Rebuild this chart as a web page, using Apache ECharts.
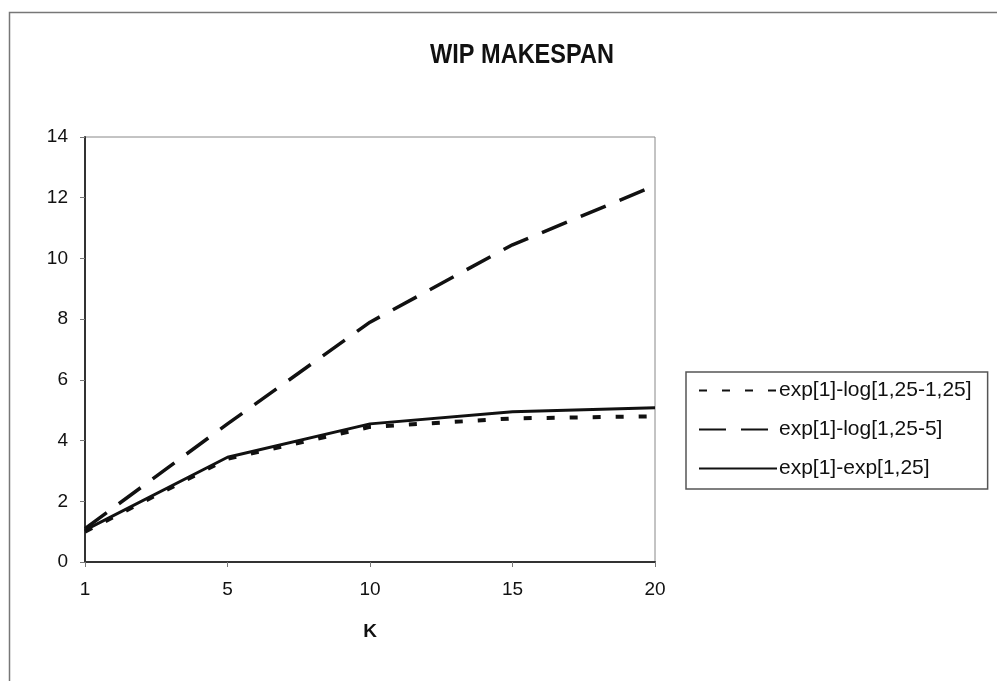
<!DOCTYPE html>
<html>
<head>
<meta charset="utf-8">
<script src="https://cdn.jsdelivr.net/npm/echarts@6/dist/echarts.min.js"></script>
<style>
  html, body { margin: 0; padding: 0; background: #fff; }
  #chart { width: 997px; height: 681px; }
</style>
</head>
<body>
<div id="chart"></div>
<script>
// data
var kValues = ['1', '5', '10', '15', '20'];
var logSame = [1.0, 3.4, 4.45, 4.73, 4.8];      // exp[1]-log[1,25-1,25]
var logFive = [1.1, 4.55, 7.9, 10.45, 12.4];    // exp[1]-log[1,25-5]
var expExp = [1.05, 3.45, 4.55, 4.95, 5.08];    // exp[1]-exp[1,25]

var font = "'Liberation Sans', Arial, sans-serif";
var ink = '#111';

var myChart = echarts.init(document.getElementById('chart'));

var option = {
  backgroundColor: '#fff',
  animation: false,
  graphic: [{
    type: 'rect',
    shape: { x: 9.5, y: 12.5, width: 1000, height: 700 },
    style: { fill: 'none', stroke: '#777', lineWidth: 1.5 },
    silent: true
  }, {
    // title, drawn a bit condensed like the original
    type: 'text',
    x: 522,
    y: 55,
    scaleX: 0.84,
    style: {
      text: 'WIP MAKESPAN',
      fontFamily: font,
      fontSize: 28,
      fontWeight: 'bold',
      fill: ink,
      align: 'center',
      verticalAlign: 'middle'
    },
    silent: true
  }],
  legend: {
    orient: 'vertical',
    left: 686,
    top: 372,
    itemWidth: 78,
    itemHeight: 20,
    itemGap: 18,
    padding: [8, 16, 10, 12],
    backgroundColor: '#fff',
    borderColor: '#555',
    borderWidth: 1.5,
    borderRadius: 0,
    itemStyle: { opacity: 0 },
    textStyle: { fontFamily: font, fontSize: 21, color: ink, padding: [0, 0, 0, -3] },
    data: ['exp[1]-log[1,25-1,25]', 'exp[1]-log[1,25-5]', 'exp[1]-exp[1,25]']
  },
  grid: {
    left: 85,
    right: 342,
    top: 137,
    bottom: 119,
    show: true,
    borderColor: '#888',
    borderWidth: 1
  },
  xAxis: {
    type: 'category',
    data: kValues,
    boundaryGap: false,
    name: 'K',
    nameLocation: 'middle',
    nameGap: 60,
    nameTextStyle: { fontFamily: font, fontSize: 19, fontWeight: 'bold', color: ink },
    axisLine: { lineStyle: { color: '#333', width: 2 } },
    axisTick: { show: true, length: 5, lineStyle: { color: '#777' } },
    axisLabel: { fontFamily: font, fontSize: 19, color: ink, margin: 18 },
    splitLine: { show: false }
  },
  yAxis: {
    type: 'value',
    min: 0,
    max: 14,
    interval: 2,
    axisLine: { show: true, lineStyle: { color: '#333', width: 2 } },
    axisTick: { show: true, length: 5, lineStyle: { color: '#777' } },
    axisLabel: { fontFamily: font, fontSize: 19, color: ink, margin: 17 },
    splitLine: { show: false }
  },
  series: [{
    name: 'exp[1]-log[1,25-1,25]',
    type: 'line',
    symbol: 'none',
    data: logSame,
    z: 2,
    lineStyle: { color: ink, width: 4, type: [8, 15] },
    itemStyle: { color: ink }
  }, {
    name: 'exp[1]-log[1,25-5]',
    type: 'line',
    symbol: 'none',
    data: logFive,
    z: 3,
    lineStyle: { color: ink, width: 3.5, type: [27, 15] },
    itemStyle: { color: ink }
  }, {
    name: 'exp[1]-exp[1,25]',
    type: 'line',
    symbol: 'none',
    data: expExp,
    z: 4,
    lineStyle: { color: ink, width: 3 },
    itemStyle: { color: ink }
  }]
};

myChart.setOption(option);
</script>
</body>
</html>
